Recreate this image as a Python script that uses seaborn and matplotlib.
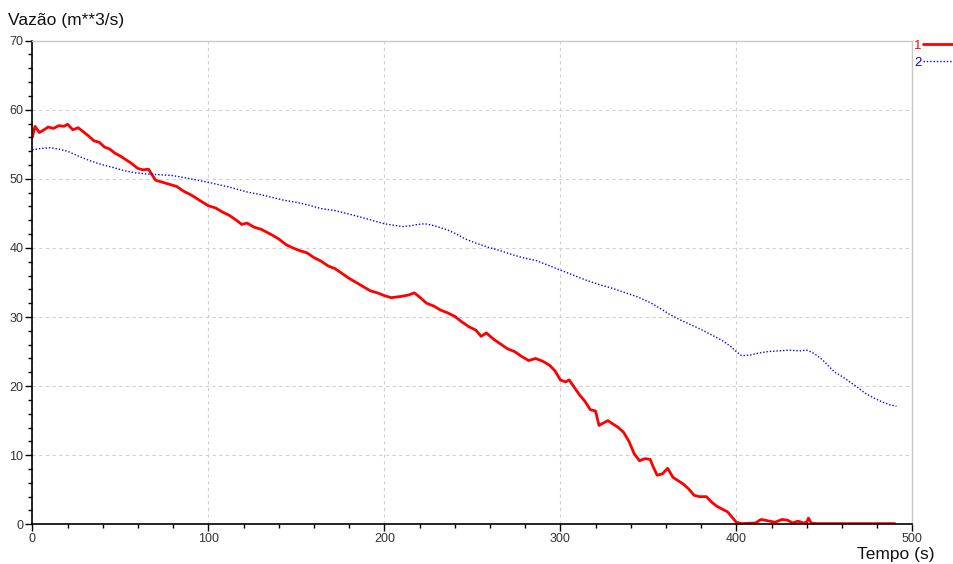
import matplotlib
matplotlib.use("Agg")
import matplotlib.pyplot as plt
import seaborn as sns
import pandas as pd

# Series 1: flow rate (red)
t1 = [0, 1.5, 4, 6, 9, 12, 15, 18, 20, 23, 26, 29, 32, 35, 38, 41, 44, 47, 50, 53,
      56, 60, 63, 66, 68, 70, 74, 78, 82, 86, 90, 95, 100, 104, 108, 112, 116, 119,
      122, 126, 130, 133, 136, 140, 144, 148, 152, 156, 160, 164, 168, 172, 176, 180,
      184, 188, 192, 196, 200, 204, 207, 210, 214, 217, 220, 224, 228, 232, 236, 240,
      244, 248, 252, 255, 258, 262, 266, 270, 274, 278, 282, 286, 290, 294, 297, 300,
      303, 305, 308, 311, 314, 317, 320, 322, 324, 327, 330, 333, 336, 339, 342, 345,
      348, 351, 353, 355, 358, 361, 364, 367, 370, 373, 376, 379, 383, 386, 389, 392,
      395, 398, 400, 403, 407, 411, 414, 418, 422, 426, 429, 432, 435, 438, 440, 441,
      442.5, 445, 460, 475, 490]
q1 = [56.0, 57.6, 56.7, 57.0, 57.5, 57.3, 57.7, 57.6, 57.9, 57.1, 57.4, 56.8, 56.2,
      55.5, 55.3, 54.6, 54.3, 53.7, 53.3, 52.8, 52.3, 51.5, 51.3, 51.4, 50.6, 49.8,
      49.5, 49.2, 48.9, 48.2, 47.7, 46.9, 46.1, 45.8, 45.2, 44.7, 44.0, 43.4, 43.6,
      43.0, 42.7, 42.3, 41.9, 41.3, 40.5, 40.0, 39.6, 39.3, 38.6, 38.1, 37.4, 37.0,
      36.3, 35.6, 35.0, 34.4, 33.8, 33.5, 33.1, 32.8, 32.9, 33.0, 33.2, 33.5, 32.9,
      32.0, 31.6, 31.0, 30.6, 30.1, 29.3, 28.6, 28.1, 27.2, 27.7, 26.8, 26.1, 25.4,
      25.0, 24.3, 23.7, 24.0, 23.6, 23.0, 22.2, 20.9, 20.6, 20.9, 19.8, 18.7, 17.8,
      16.6, 16.4, 14.3, 14.6, 15.0, 14.5, 14.0, 13.3, 12.0, 10.2, 9.2, 9.5, 9.4, 8.2,
      7.1, 7.3, 8.1, 6.8, 6.3, 5.8, 5.1, 4.2, 4.0, 4.0, 3.2, 2.6, 2.2, 1.8, 0.9, 0.3,
      0.1, 0.15, 0.2, 0.7, 0.5, 0.3, 0.7, 0.6, 0.2, 0.45, 0.2, 0.3, 0.9, 0.2, 0.1,
      0.1, 0.1, 0.1]

# Series 2: flow rate (blue)
t2 = [0, 5, 10, 15, 20, 27, 33, 39, 45, 52, 58, 65, 72, 79, 86, 94, 100, 105, 112,
      122, 130, 143, 150, 157, 164, 172, 180, 186, 193, 200, 205, 210, 215, 219, 223,
      227, 231, 236, 241, 246, 252, 259, 266, 273, 280, 286, 293, 301, 308, 315, 322,
      329, 336, 344, 351, 357, 362, 368, 374, 380, 386, 392, 397, 400, 403, 408, 413,
      418, 424, 430, 436, 440, 443, 446, 449, 452, 456, 460, 464, 469, 473, 478, 483,
      487, 491]
q2 = [54.2, 54.4, 54.5, 54.3, 54.0, 53.2, 52.6, 52.1, 51.7, 51.2, 50.9, 50.7, 50.6,
      50.5, 50.2, 49.8, 49.5, 49.2, 48.8, 48.1, 47.7, 46.9, 46.6, 46.2, 45.7, 45.4,
      44.9, 44.5, 44.0, 43.5, 43.3, 43.1, 43.2, 43.4, 43.5, 43.3, 43.0, 42.6, 42.0,
      41.3, 40.7, 40.1, 39.6, 39.0, 38.5, 38.2, 37.5, 36.7, 36.0, 35.3, 34.7, 34.2,
      33.6, 32.9, 32.1, 31.2, 30.4, 29.6, 28.9, 28.2, 27.4, 26.6, 25.7, 25.0, 24.4,
      24.5, 24.8, 25.0, 25.1, 25.2, 25.1, 25.2, 24.9, 24.4, 23.8, 23.0, 22.0, 21.4,
      20.7, 19.8, 19.0, 18.3, 17.7, 17.3, 17.1]

x_ticks = [0, 100, 200, 300, 400, 500]
y_ticks = [0, 10, 20, 30, 40, 50, 60, 70]

sns.set_theme(style="white")
plt.rcParams["font.family"] = ["Liberation Sans", "DejaVu Sans"]

df1 = pd.DataFrame({"t": t1, "q": q1})
df2 = pd.DataFrame({"t": t2, "q": q2})

fig = plt.figure(figsize=(9.54, 5.64), dpi=100)
ax = fig.add_axes([0.0339, 0.0704, 0.9224, 0.8575])

sns.lineplot(data=df1, x="t", y="q", ax=ax, color="#ff0000", linewidth=2.0,
             estimator=None, sort=False, label="1")
sns.lineplot(data=df2, x="t", y="q", ax=ax, color="#0000ff", linewidth=1.0,
             estimator=None, sort=False, label="2", linestyle=(0, (1, 1.4)))

ax.set_xlim(0, 500)
ax.set_ylim(0, 70)
ax.set_xticks(x_ticks)
ax.set_yticks(y_ticks)
ax.set_xticks(range(0, 501, 20), minor=True)
ax.set_yticks(range(0, 71, 2), minor=True)
ax.set_xlabel("")
ax.set_ylabel("")

ax.grid(True, which="major", linestyle=(0, (3, 3)), color="#cfcfcf", linewidth=0.8)
ax.set_axisbelow(True)

for side in ("left", "bottom"):
    ax.spines[side].set_color("black")
    ax.spines[side].set_linewidth(1.2)
for side in ("top", "right"):
    ax.spines[side].set_color("#c8c8c8")
    ax.spines[side].set_linewidth(1.0)

ax.tick_params(axis="both", which="major", direction="out", length=5, width=1,
               color="black", labelsize=9, labelcolor="#333333", pad=1.5,
               left=True, bottom=True)
ax.tick_params(axis="both", which="minor", direction="out", length=3, width=1,
               color="black", left=True, bottom=True)

leg = ax.legend(loc="upper left", bbox_to_anchor=(0.958, 0.93),
                bbox_transform=fig.transFigure, frameon=False, markerfirst=False,
                handlelength=3.2, handletextpad=0.1, labelspacing=0.35,
                fontsize=9.5, labelcolor="linecolor", borderpad=0, borderaxespad=0)

fig.text(8 / 954, 1 - 20 / 564, "Vazão (m**3/s)", ha="left", va="center",
         fontsize=12.5, color="#111111")
fig.text(935 / 954, 1 - 555 / 564, "Tempo (s)", ha="right", va="center",
         fontsize=12.5, color="#111111")

fig.savefig("out.png", dpi=100)
